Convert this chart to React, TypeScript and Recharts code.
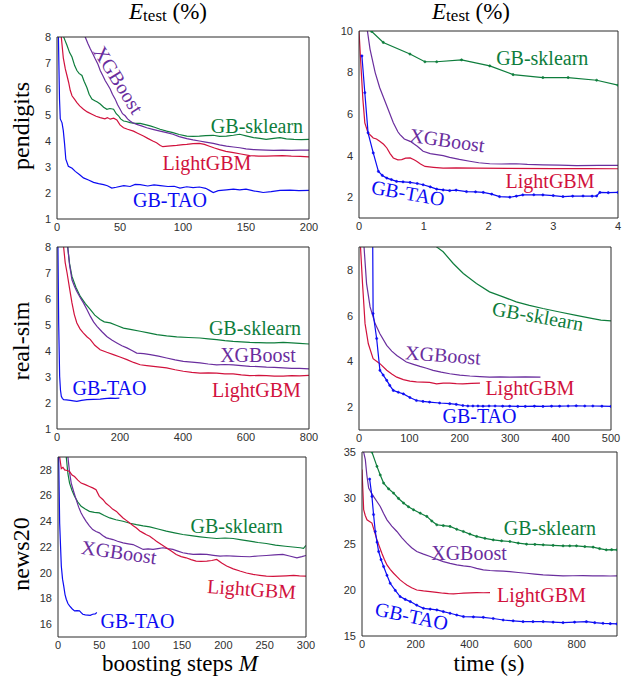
import React from 'react';
import { LineChart, Line, XAxis, YAxis, ReferenceDot } from 'recharts';

type Pt = [number, number];

const C_SK = '#0e7d3c';
const C_XGB = '#6a2e9e';
const C_LGB = '#d1123d';
const C_TAO = '#0c0cf2';

const SERIES_NAMES = ['GB-sklearn', 'XGBoost', 'LightGBM', 'GB-TAO'];
const ROW_NAMES = ['pendigits', 'real-sim', 'news20'];
const X_TITLES = ['boosting steps ', 'time (s)'];

// ---------- pendigits, boosting steps ----------
const pendStepsTAO: Pt[] = [[0,12],[1,8.3],[2,5.6],[2.6,4.85],[4,4.7],[5,4.4],[6,3.9],[7,3.3],[9,3.03],[12,2.95],[14.5,2.83],[18,2.7],[21,2.58],[25,2.5],[29,2.41],[33,2.36],[37,2.32],[40,2.28],[43.5,2.19],[47,2.22],[53,2.28],[58,2.25],[62,2.33],[66,2.32],[72,2.27],[77,2.31],[82,2.28],[88,2.25],[93,2.26],[97.6,2.19],[103,2.24],[108,2.21],[113,2.23],[118,2.18],[121,2.1],[124,2.02],[128,2.09],[134.5,2.12],[140,2.15],[145,2.12],[150,2.15],[156,2.08],[160,2.05],[163.6,2.02],[170,2.05],[177,2.1],[185,2.11],[192,2.09],[200,2.1]];
const pendStepsLGB: Pt[] = [[2,11],[3.4,8],[5,7.2],[6.6,6.77],[8,6.5],[9.2,6.26],[10.5,5.95],[11.9,5.74],[14,5.6],[15.8,5.48],[18,5.35],[21,5.22],[24,5.12],[27.7,5.03],[31,4.95],[34.3,4.9],[38,4.85],[40,4.9],[42.2,4.84],[45,4.88],[47.5,4.81],[50,4.62],[52.8,4.51],[56,4.45],[60.7,4.38],[64,4.3],[68.6,4.19],[72,4.1],[76,4.0],[79,3.93],[82,3.83],[84,3.78],[88,3.8],[95,3.83],[100,3.86],[103,3.87],[108,3.9],[113,3.91],[117,3.87],[121,3.8],[125,3.73],[129,3.67],[134,3.6],[140,3.55],[146,3.5],[153,3.44],[160,3.42],[166,3.42],[172,3.43],[179,3.44],[186,3.42],[193,3.41],[200,3.39]];
const pendStepsSK: Pt[] = [[4,10],[5.3,8],[6.5,7.85],[7.9,7.68],[10,7.4],[11.9,7.23],[14,6.9],[15.8,6.71],[17.5,6.6],[19.8,6.52],[21.5,6.3],[23.7,6.06],[25.5,5.8],[27.7,5.61],[30,5.55],[32,5.5],[34.3,5.42],[37,5.3],[39.6,5.22],[42,5.25],[44.9,5.22],[47,5.05],[48.8,4.97],[50.5,4.85],[52.8,4.77],[55,4.75],[58,4.71],[62,4.68],[66,4.68],[70,4.63],[73.9,4.58],[78,4.52],[81.8,4.45],[87,4.38],[92,4.32],[97,4.25],[103,4.19],[108,4.18],[113,4.19],[118,4.21],[124,4.22],[129,4.18],[134.5,4.19],[140,4.22],[145,4.26],[150,4.2],[156,4.13],[161,4.1],[166,4.06],[172,4.1],[177,4.13],[182,4.08],[188,4.06],[194,4.05],[200,4.06]];
const pendStepsXGB: Pt[] = [[20,9],[22.4,8],[24.5,7.75],[26.4,7.55],[28.5,7.35],[30.3,7.16],[32.5,6.95],[34.3,6.71],[36.5,6.5],[38.3,6.32],[40,6.18],[42.2,6.0],[44,5.8],[46.2,5.61],[48,5.4],[50.1,5.22],[52,5.05],[54.1,4.97],[56,4.85],[58,4.77],[60,4.7],[63.3,4.64],[67,4.58],[71.2,4.51],[76,4.45],[81.8,4.38],[87,4.32],[92,4.26],[97,4.17],[103,4.09],[108,4.04],[113,4.0],[118,3.96],[124,3.91],[129,3.85],[134.5,3.8],[140,3.77],[145,3.74],[150,3.7],[156,3.67],[161,3.66],[166,3.65],[172,3.64],[179,3.65],[186,3.64],[193,3.65],[200,3.65]];

// ---------- pendigits, time ----------
const pendTimeSK: Pt[] = [[0.16,10.3],[0.195,9.98],[0.375,9.45],[0.787,8.89],[1.018,8.52],[1.2,8.52],[1.584,8.61],[2.02,8.32],[2.38,7.9],[2.84,7.76],[3.23,7.76],[3.67,7.63],[4.0,7.39]];
const pendTimeXGB: Pt[] = [[0.1,10.5],[0.13,10],[0.17,9.13],[0.25,8.0],[0.32,7.27],[0.43,6.39],[0.53,5.58],[0.6,5.15],[0.63,5.02],[0.7,4.8],[0.79,4.69],[0.9,4.45],[0.99,4.21],[1.1,4.1],[1.2,4.05],[1.3,4.0],[1.4,3.92],[1.55,3.82],[1.71,3.73],[1.85,3.66],[2.02,3.61],[2.2,3.6],[2.43,3.61],[2.6,3.58],[2.84,3.56],[3.1,3.54],[3.36,3.52],[3.7,3.53],[4.0,3.53]];
const pendTimeLGB: Pt[] = [[0,10],[0.03,8.32],[0.06,6.71],[0.09,5.58],[0.14,5.1],[0.22,4.85],[0.27,4.8],[0.32,4.69],[0.38,4.55],[0.43,4.37],[0.48,4.1],[0.53,3.89],[0.6,3.8],[0.66,3.81],[0.72,3.88],[0.79,3.89],[0.85,3.8],[0.89,3.73],[0.95,3.6],[1.02,3.48],[1.15,3.44],[1.3,3.4],[1.5,3.41],[1.81,3.4],[2.3,3.39],[3.0,3.38],[3.5,3.38],[4.0,3.37]];
const pendTimeTAO: Pt[] = [[0.045,8.8],[0.09,7.03],[0.14,5.1],[0.22,4.13],[0.3,3.24],[0.36,3.05],[0.43,2.92],[0.5,2.85],[0.58,2.76],[0.68,2.74],[0.79,2.71],[0.9,2.66],[0.99,2.6],[1.1,2.5],[1.2,2.39],[1.3,2.35],[1.4,2.32],[1.5,2.34],[1.66,2.27],[1.8,2.26],[1.92,2.23],[2.05,2.15],[2.17,2.03],[2.33,2.0],[2.43,2.05],[2.53,2.11],[2.7,2.12],[2.84,2.11],[3.0,2.08],[3.15,2.03],[3.3,2.05],[3.46,2.06],[3.6,2.05],[3.67,2.06],[3.72,2.23],[3.85,2.22],[4.0,2.23]];

// ---------- real-sim, boosting steps ----------
const realStepsTAO: Pt[] = [[0,10],[3,8],[5.3,5.08],[8.4,3.03],[11,2.5],[13.7,2.26],[17,2.18],[21,2.13],[30,2.12],[42,2.1],[52,2.08],[63,2.06],[78,2.1],[95,2.13],[115,2.14],[137,2.15],[150,2.17],[169,2.19],[185,2.18],[198,2.19]];
const realStepsLGB: Pt[] = [[15,10],[21,8],[26,7.4],[32,7.0],[40,6.4],[47.5,5.85],[55,5.4],[63,5.08],[73,4.85],[84,4.69],[95,4.55],[106,4.44],[120,4.22],[137,4.05],[158,3.95],[179,3.86],[200,3.77],[222,3.67],[243,3.56],[264,3.47],[285,3.44],[306,3.41],[327,3.38],[348,3.35],[375,3.28],[401,3.22],[428,3.18],[454,3.15],[480,3.16],[507,3.15],[533,3.12],[559,3.12],[585,3.08],[612,3.05],[640,3.06],[665,3.05],[690,3.03],[718,3.03],[745,3.05],[770,3.04],[800,3.06]];
const realStepsXGB: Pt[] = [[28,10],[34,8],[40,7.3],[47.5,6.74],[55,6.5],[63,6.29],[74,6.05],[84,5.85],[95,5.6],[106,5.33],[116,5.12],[127,4.95],[142,4.75],[158,4.56],[174,4.42],[190,4.31],[206,4.2],[222,4.12],[238,4.02],[253,3.92],[275,3.9],[296,3.86],[322,3.8],[348,3.73],[375,3.66],[401,3.6],[428,3.57],[454,3.54],[480,3.5],[507,3.47],[533,3.48],[559,3.47],[585,3.44],[612,3.41],[640,3.4],[665,3.38],[690,3.37],[718,3.35],[745,3.33],[770,3.33],[800,3.31]];
const realStepsSK: Pt[] = [[28,10],[34,8],[40,7.35],[47.5,6.87],[60,6.45],[74,6.1],[90,5.82],[106,5.59],[120,5.38],[137,5.21],[150,5.12],[169,5.08],[190,4.98],[211,4.88],[237,4.82],[264,4.76],[290,4.7],[317,4.63],[348,4.58],[380,4.54],[417,4.52],[454,4.5],[480,4.47],[507,4.44],[533,4.4],[559,4.37],[585,4.35],[612,4.33],[640,4.32],[665,4.31],[690,4.31],[718,4.33],[745,4.31],[770,4.29],[800,4.27]];

// ---------- real-sim, time ----------
const realTimeSK: Pt[] = [[150,9.3],[154,9],[167,8.79],[187,8.28],[207,7.84],[233,7.4],[259,7.04],[286,6.82],[312,6.6],[338,6.45],[365,6.31],[398,6.16],[431,6.01],[464,5.87],[480,5.8],[500,5.77]];
const realTimeXGB: Pt[] = [[8,10],[10,9],[15,7.4],[22,6.38],[32,5.65],[41.5,5.21],[55,4.7],[65,4.45],[75,4.26],[94,3.97],[108,3.87],[121,3.78],[134,3.7],[147,3.61],[163,3.53],[180,3.46],[200,3.4],[220,3.36],[240,3.33],[259,3.31],[280,3.32],[299,3.31],[330,3.32],[360,3.31]];
const realTimeLGB: Pt[] = [[2,10],[3,9],[7,7.4],[12,5.65],[18.5,4.77],[28,4.12],[41.5,3.9],[55,3.61],[65,3.45],[75,3.31],[88,3.2],[101,3.14],[114,3.1],[127,3.09],[140,3.08],[154,3.02],[167,3.05],[180,3.05],[193,3.03],[206,3.02],[223,3.04],[240,3.05]];
const realTimeTAO: Pt[] = [[27,10],[28,6.09],[35,5.0],[41.5,3.61],[48,3.4],[55,3.17],[61,2.95],[68,2.73],[78,2.65],[88,2.58],[101,2.42],[114,2.29],[127,2.25],[140,2.22],[160,2.18],[180,2.15],[193,2.12],[206,2.07],[216,2.05],[226,2.05],[236,2.05],[246,2.04],[258,2.05],[270,2.05],[285,2.04],[299,2.04],[315,2.03],[330,2.03],[348,2.04],[365,2.03],[382,2.04],[398,2.04],[415,2.05],[431,2.06],[448,2.05],[464,2.05],[482,2.04],[500,2.03]];

// ---------- news20, boosting steps ----------
const newsStepsTAO: Pt[] = [[0,35],[0.8,29],[2,23.87],[4,20.52],[5.5,19.5],[6.9,18.97],[8.5,18.3],[10,17.94],[12,17.6],[14,17.42],[17,17.2],[20,17.03],[23,17.05],[26,17.03],[28,16.9],[30,16.77],[33,16.72],[36,16.7],[39,16.68],[42,16.77],[45,16.8],[47,16.9]];
const newsStepsLGB: Pt[] = [[1,32],[2,29],[4,28.1],[6,28.2],[8,28],[11,27.95],[14,27.87],[17,27.6],[20,27.48],[24,27.2],[28,26.97],[33,26.85],[38,26.71],[42,26.6],[46,26.45],[50,25.94],[54.5,25.68],[58,25.4],[62.6,25.16],[66,24.95],[70.7,24.77],[74,24.55],[78.7,24.26],[83,24.05],[86.8,23.87],[91,23.65],[94.9,23.48],[99,23.25],[103,23.1],[107,22.95],[111,22.84],[115,22.65],[119,22.45],[125,22.2],[131,21.94],[137,21.68],[143,21.42],[149,21.25],[155,21.16],[161,21.02],[167,20.9],[173,20.88],[180,20.9],[186,20.95],[192,21.03],[198,20.75],[204,20.52],[212,20.3],[220,20.13],[228,19.98],[236,19.87],[244,19.8],[252,19.74],[260,19.72],[268,19.74],[276,19.76],[285,19.79],[292,19.75],[300,19.74]];
const newsStepsSK: Pt[] = [[8,32],[10,29],[12,27.7],[14,26.97],[17,26.4],[20,25.94],[24,25.5],[28,25.16],[33,24.95],[38,24.77],[44,24.7],[50,24.65],[56,24.45],[62.6,24.26],[70,24.12],[78.7,24.0],[87,23.85],[94.9,23.74],[103,23.64],[111,23.56],[121,23.4],[131,23.23],[141,23.1],[151,22.97],[161,22.88],[172,22.79],[182,22.72],[192,22.66],[202,22.7],[212,22.66],[222,22.55],[232,22.45],[242,22.35],[252,22.27],[263,22.15],[275,22.06],[284,22.0],[293,21.94],[297,21.9],[300,22.12]];
const newsStepsXGB: Pt[] = [[10,31],[12,29],[14,27.8],[16,26.97],[19,26.3],[22,25.68],[25,25.1],[28,24.65],[31,24.3],[34,24.0],[38,23.65],[42,23.35],[46,23.2],[50,23.1],[54,22.9],[58.5,22.71],[62,22.65],[66.6,22.58],[72,22.45],[78.7,22.32],[85,22.25],[90.8,22.19],[97,22.0],[103,21.81],[109,21.85],[115,21.81],[121,21.88],[127,21.94],[133,21.87],[139,21.81],[145,21.68],[151,21.55],[157,21.48],[163.5,21.42],[172,21.45],[180,21.42],[188,21.35],[196,21.29],[204,21.32],[212,21.29],[222,21.26],[232,21.24],[242,21.3],[252,21.34],[262,21.38],[272,21.42],[280,21.3],[289,21.16],[295,21.25],[300,21.34]];

// ---------- news20, time ----------
const newsTimeSK: Pt[] = [[30,36],[37,35],[55.7,33.44],[68,32.5],[80.5,31.62],[99,31.0],[117.6,30.53],[136,29.95],[154.8,29.45],[173,29.05],[192,28.72],[217,28.35],[241.5,28.0],[260,27.5],[278.6,27.09],[303,27.0],[328,26.91],[353,26.6],[377.7,26.36],[402,26.08],[427,25.82],[458,25.62],[489,25.45],[520,25.35],[551,25.27],[582,25.1],[613,24.98],[644,24.95],[675,24.91],[712,24.85],[749,24.8],[774,24.8],[799,24.8],[830,24.72],[861,24.66],[885,24.5],[910,24.37],[930,24.38],[950,24.37]];
const newsTimeXGB: Pt[] = [[3,36],[6,35],[12.4,34.17],[18,32.5],[24.8,31.08],[34,30.6],[43,30.17],[55,29.65],[68,29.08],[80,28.35],[93,27.63],[111,26.95],[130,26.36],[148,25.7],[167,25.09],[185,24.6],[204,24.18],[229,23.9],[254,23.64],[278,23.35],[303,23.09],[328,22.9],[353,22.73],[378,22.62],[402,22.55],[427,22.35],[452,22.19],[477,22.12],[501,22.08],[526,22.05],[551,22.0],[582,21.9],[613,21.82],[644,21.72],[675,21.64],[712,21.58],[749,21.53],[786,21.55],[823,21.57],[860,21.54],[898,21.53],[925,21.52],[950,21.53]];
const newsTimeLGB: Pt[] = [[0,33.1],[3,31],[6.2,28.72],[12,28.1],[18.6,27.63],[28,27.45],[37,27.27],[46,26.4],[55.7,25.45],[65,24.7],[74,24.0],[83,23.35],[93,22.73],[105,22.25],[117.6,21.82],[130,21.45],[142,21.1],[155,20.8],[167,20.55],[185,20.25],[204,20.0],[229,19.9],[254,19.83],[278,19.75],[303,19.65],[322,19.6],[341,19.57],[360,19.62],[378,19.65],[403,19.68],[427,19.72],[452,19.7],[477,19.72]];
const newsTimeTAO: Pt[] = [[28.5,32.06],[37,30.17],[43,28.2],[49.5,26.36],[56,25.2],[62,24.18],[71,23.3],[80.5,22.55],[93,21.6],[105,20.73],[124,19.95],[142,19.28],[161,18.98],[180,18.74],[204,18.35],[229,18.01],[254,17.92],[279,17.83],[303,17.65],[328,17.47],[353,17.28],[378,17.11],[415,17.07],[452,17.03],[489,16.9],[526,16.74],[563,16.65],[600,16.56],[637,16.56],[675,16.56],[712,16.5],[749,16.45],[792,16.5],[836,16.56],[867,16.45],[898,16.38],[925,16.34],[950,16.31]];

// ---------- axis ticks ----------
const ticksPendStepsX = [0, 50, 100, 150, 200];
const ticksPendStepsY = [1, 2, 3, 4, 5, 6, 7, 8];
const ticksPendTimeX = [0, 1, 2, 3, 4];
const ticksPendTimeY = [2, 4, 6, 8, 10];
const ticksRealStepsX = [0, 200, 400, 600, 800];
const ticksRealStepsY = [1, 2, 3, 4, 5, 6, 7, 8];
const ticksRealTimeX = [0, 100, 200, 300, 400, 500];
const ticksRealTimeY = [2, 4, 6, 8];
const ticksNewsStepsX = [0, 50, 100, 150, 200, 250, 300];
const ticksNewsStepsY = [16, 18, 20, 22, 24, 26, 28];
const ticksNewsTimeX = [0, 200, 400, 600, 800];
const ticksNewsTimeY = [15, 20, 25, 30, 35];

type SeriesDef = { data: Pt[]; color: string; dot?: boolean };
type LabelDef = { text: string; x: number; y: number; angle?: number; color: string };
type PanelDef = {
  l: number; t: number; w: number; h: number;
  xDomain: [number, number]; yDomain: [number, number];
  xTicks: number[]; yTicks: number[];
  series: SeriesDef[]; labels: LabelDef[];
};

const PANELS: PanelDef[] = [
  {
    l: 57, t: 37, w: 252, h: 182, xDomain: [0, 200], yDomain: [1, 8], xTicks: ticksPendStepsX, yTicks: ticksPendStepsY,
    series: [
      { data: pendStepsSK, color: C_SK }, { data: pendStepsXGB, color: C_XGB },
      { data: pendStepsLGB, color: C_LGB }, { data: pendStepsTAO, color: C_TAO },
    ],
    labels: [
      { text: SERIES_NAMES[0], x: 158.7, y: 4.58, color: C_SK },
      { text: SERIES_NAMES[1], x: 48.8, y: 6.35, angle: 58, color: C_XGB },
      { text: SERIES_NAMES[2], x: 119, y: 3.15, color: C_LGB },
      { text: SERIES_NAMES[3], x: 89.7, y: 1.73, color: C_TAO },
    ],
  },
  {
    l: 359, t: 31, w: 259, h: 187, xDomain: [0, 4], yDomain: [1, 10], xTicks: ticksPendTimeX, yTicks: ticksPendTimeY,
    series: [
      { data: pendTimeSK, color: C_SK, dot: true }, { data: pendTimeXGB, color: C_XGB },
      { data: pendTimeLGB, color: C_LGB }, { data: pendTimeTAO, color: C_TAO, dot: true },
    ],
    labels: [
      { text: SERIES_NAMES[0], x: 2.83, y: 8.7, color: C_SK },
      { text: SERIES_NAMES[1], x: 1.36, y: 4.75, angle: 8, color: C_XGB },
      { text: SERIES_NAMES[2], x: 2.95, y: 2.78, color: C_LGB },
      { text: SERIES_NAMES[3], x: 0.757, y: 2.2, angle: 10, color: C_TAO },
    ],
  },
  {
    l: 57, t: 247, w: 252, h: 182, xDomain: [0, 800], yDomain: [1, 8], xTicks: ticksRealStepsX, yTicks: ticksRealStepsY,
    series: [
      { data: realStepsSK, color: C_SK }, { data: realStepsXGB, color: C_XGB },
      { data: realStepsLGB, color: C_LGB }, { data: realStepsTAO, color: C_TAO },
    ],
    labels: [
      { text: SERIES_NAMES[0], x: 628.6, y: 4.88, color: C_SK },
      { text: SERIES_NAMES[1], x: 638, y: 3.85, color: C_XGB },
      { text: SERIES_NAMES[2], x: 633, y: 2.5, color: C_LGB },
      { text: SERIES_NAMES[3], x: 166.7, y: 2.58, color: C_TAO },
    ],
  },
  {
    l: 359, t: 247, w: 252, h: 183, xDomain: [0, 500], yDomain: [1, 9], xTicks: ticksRealTimeX, yTicks: ticksRealTimeY,
    series: [
      { data: realTimeSK, color: C_SK }, { data: realTimeXGB, color: C_XGB },
      { data: realTimeLGB, color: C_LGB }, { data: realTimeTAO, color: C_TAO, dot: true },
    ],
    labels: [
      { text: SERIES_NAMES[0], x: 355, y: 5.98, angle: 10, color: C_SK },
      { text: SERIES_NAMES[1], x: 166.7, y: 4.28, angle: 4, color: C_XGB },
      { text: SERIES_NAMES[2], x: 339, y: 2.84, color: C_LGB },
      { text: SERIES_NAMES[3], x: 239, y: 1.61, color: C_TAO },
    ],
  },
  {
    l: 58, t: 457, w: 248, h: 180, xDomain: [0, 300], yDomain: [15, 29], xTicks: ticksNewsStepsX, yTicks: ticksNewsStepsY,
    series: [
      { data: newsStepsSK, color: C_SK }, { data: newsStepsXGB, color: C_XGB },
      { data: newsStepsLGB, color: C_LGB }, { data: newsStepsTAO, color: C_TAO },
    ],
    labels: [
      { text: SERIES_NAMES[0], x: 216, y: 23.63, color: C_SK },
      { text: SERIES_NAMES[1], x: 73.8, y: 21.61, angle: 8, color: C_XGB },
      { text: SERIES_NAMES[2], x: 234.3, y: 18.73, angle: 4, color: C_LGB },
      { text: SERIES_NAMES[3], x: 96.2, y: 16.24, color: C_TAO },
    ],
  },
  {
    l: 362, t: 452, w: 255, h: 184, xDomain: [0, 950], yDomain: [15, 35], xTicks: ticksNewsTimeX, yTicks: ticksNewsTimeY,
    series: [
      { data: newsTimeSK, color: C_SK, dot: true }, { data: newsTimeXGB, color: C_XGB },
      { data: newsTimeLGB, color: C_LGB }, { data: newsTimeTAO, color: C_TAO, dot: true },
    ],
    labels: [
      { text: SERIES_NAMES[0], x: 700, y: 26.74, color: C_SK },
      { text: SERIES_NAMES[1], x: 398.6, y: 24.02, color: C_XGB },
      { text: SERIES_NAMES[2], x: 668.7, y: 19.46, color: C_LGB },
      { text: SERIES_NAMES[3], x: 185, y: 17.17, angle: 12, color: C_TAO },
    ],
  },
];

const SERIF = "'Liberation Serif', 'Times New Roman', Times, serif";
const SANS = "'Liberation Sans', Arial, Helvetica, sans-serif";
const AXIS = '#2b2b2b';

function Panel({ p }: { p: PanelDef }) {
  const ML = 40, MT = 12, MR = 12, MB = 22;
  const tickStyle = { fill: '#303030', fontSize: 11, fontFamily: SANS };
  return (
    <div style={{ position: 'absolute', left: p.l - ML, top: p.t - MT }}>
      <LineChart width={p.w + ML + MR} height={p.h + MT + MB} margin={{ top: MT, right: MR, bottom: 0, left: 0 }}>
        <XAxis xAxisId="b" type="number" dataKey="x" domain={p.xDomain} ticks={p.xTicks} allowDataOverflow
          orientation="bottom" height={MB} tickLine={false} tickSize={0} tickMargin={4} interval={0}
          stroke={AXIS} tick={tickStyle} />
        <XAxis xAxisId="bi" type="number" dataKey="x" domain={p.xDomain} ticks={p.xTicks} allowDataOverflow
          orientation="bottom" mirror height={MB} tick={false} axisLine={false} tickSize={3} interval={0} stroke={AXIS} />
        <XAxis xAxisId="t" type="number" dataKey="x" domain={p.xDomain} ticks={p.xTicks} allowDataOverflow
          orientation="top" mirror height={MB} tick={false} tickSize={3} interval={0} stroke={AXIS} />
        <YAxis yAxisId="l" type="number" domain={p.yDomain} ticks={p.yTicks} allowDataOverflow
          orientation="left" width={ML} tickLine={false} tickSize={0} tickMargin={6} interval={0}
          stroke={AXIS} tick={tickStyle} />
        <YAxis yAxisId="li" type="number" domain={p.yDomain} ticks={p.yTicks} allowDataOverflow
          orientation="left" mirror width={ML} tick={false} axisLine={false} tickSize={3} interval={0} stroke={AXIS} />
        <YAxis yAxisId="r" type="number" domain={p.yDomain} ticks={p.yTicks} allowDataOverflow
          orientation="right" mirror width={MR} tick={false} tickSize={3} interval={0} stroke={AXIS} />
        {p.series.map((s, i) => (
          <Line key={i} xAxisId="b" yAxisId="l" data={s.data.map(([x, y]) => ({ x, y }))} dataKey="y"
            type="linear" stroke={s.color} strokeWidth={1.2}
            dot={s.dot ? { r: 1.1, fill: s.color, stroke: s.color, strokeWidth: 0.6 } : false}
            activeDot={false} isAnimationActive={false} />
        ))}
        {p.labels.map((lab, i) => (
          <ReferenceDot key={'lab' + i} xAxisId="b" yAxisId="l" x={lab.x} y={lab.y} r={0} ifOverflow="visible"
            shape={(sp: any) => (
              <text x={sp.cx} y={sp.cy} textAnchor="middle" dominantBaseline="central"
                transform={lab.angle ? `rotate(${lab.angle} ${sp.cx} ${sp.cy})` : undefined}
                fill={lab.color} fontFamily={SERIF} fontSize={20}>{lab.text}</text>
            )} />
        ))}
      </LineChart>
    </div>
  );
}

export default function App() {
  const rowY = [126, 341, 554];
  return (
    <div style={{ position: 'absolute', left: 0, top: 0, width: 630, height: 678, background: '#fff', overflow: 'hidden' }}>
      {PANELS.map((p, i) => <Panel key={i} p={p} />)}
      <svg width={630} height={678} style={{ position: 'absolute', left: 0, top: 0, pointerEvents: 'none' }}>
        {[168, 471].map((cx, i) => (
          <text key={'t' + i} x={cx} y={19} textAnchor="middle" fontFamily={SERIF} fontSize={23} fill="#000">
            <tspan fontStyle="italic">E</tspan>
            <tspan fontSize={17} dy={2}>test</tspan>
            <tspan dy={-2}> (%)</tspan>
          </text>
        ))}
        {ROW_NAMES.map((name, i) => (
          <text key={'r' + i} x={29} y={rowY[i]} textAnchor="middle" fontFamily={SERIF} fontSize={24} fill="#000"
            transform={`rotate(-90 29 ${rowY[i]})`}>{name}</text>
        ))}
        <text x={180} y={671} textAnchor="middle" fontFamily={SERIF} fontSize={23} fill="#000">
          {X_TITLES[0]}<tspan fontStyle="italic">M</tspan>
        </text>
        <text x={489} y={671} textAnchor="middle" fontFamily={SERIF} fontSize={23} fill="#000">{X_TITLES[1]}</text>
      </svg>
    </div>
  );
}
